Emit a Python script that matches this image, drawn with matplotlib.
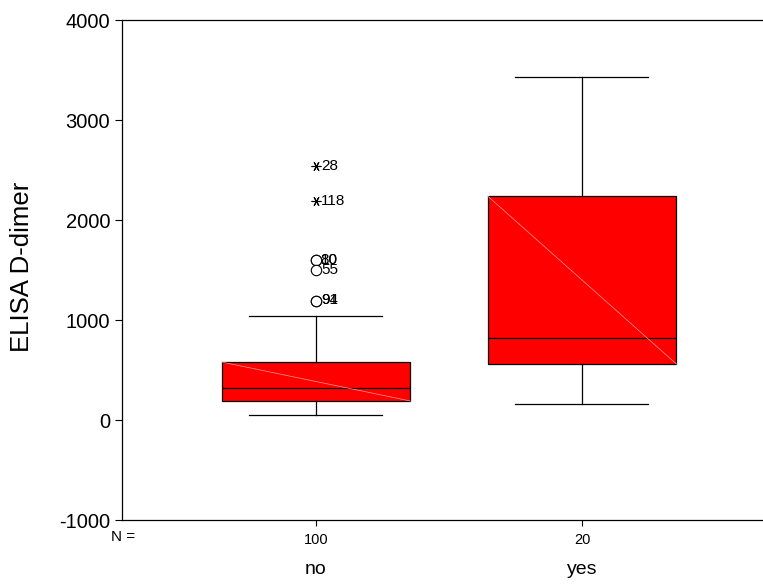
import numpy as np
import matplotlib.pyplot as plt

plt.rcParams["font.family"] = ["Liberation Sans", "DejaVu Sans"]
plt.rcParams["axes.unicode_minus"] = False

groups = ["no", "yes"]
counts = [100, 20]

# box statistics per group
q1 = [190, 560]
medians = [320, 820]
q3 = [580, 2240]
whisker_lo = [50, 160]
whisker_hi = [1040, 3430]

# outliers (group "no")
circle_vals = [1600, 1600, 1500, 1195, 1195]
circle_ids = ["80", "10", "55", "94", "91"]
star_vals = [2540, 2190]
star_ids = ["28", "118"]

fig = plt.figure(figsize=(7.63, 5.84), dpi=100)
ax = fig.add_axes([122 / 763, 1 - 520 / 584, 641 / 763, 500 / 584])

positions = [1, 2]
stats = []
for i, g in enumerate(groups):
    stats.append({
        "label": g,
        "q1": q1[i],
        "med": medians[i],
        "q3": q3[i],
        "whislo": whisker_lo[i],
        "whishi": whisker_hi[i],
        "fliers": [],
    })

box_w = 0.71
ax.bxp(
    stats,
    positions=positions,
    widths=box_w,
    patch_artist=True,
    showfliers=False,
    capwidths=0.5,
    boxprops=dict(facecolor="#ff0000", edgecolor="black", linewidth=0.9),
    medianprops=dict(color="black", linewidth=0.9),
    whiskerprops=dict(color="black", linewidth=0.9),
    capprops=dict(color="black", linewidth=0.9),
)

# faint diagonal across each box
for i, p in enumerate(positions):
    ax.plot([p - box_w / 2, p + box_w / 2], [q3[i], q1[i]],
            color="#ff9a9a", linewidth=0.5, zorder=3)

# outliers in the "no" group
ax.plot([1] * len(circle_vals), circle_vals, linestyle="none", marker="o",
        markersize=7.5, markerfacecolor="white", markeredgecolor="black",
        markeredgewidth=0.8, zorder=4)
ax.plot([1] * len(star_vals), star_vals, linestyle="none", marker=(6, 2, 90),
        markersize=7, markeredgecolor="black", markeredgewidth=0.8, zorder=4)
for v, t in zip(circle_vals + star_vals, circle_ids + star_ids):
    ax.annotate(t, (1, v), xytext=(3.5, 0), textcoords="offset points",
                ha="left", va="center", fontsize=11)

ax.set_xlim(1 - 194 / 266, 2 + 181 / 266)
ax.set_ylim(-1000, 4000)
ax.set_yticks([-1000, 0, 1000, 2000, 3000, 4000])
ax.tick_params(axis="y", labelsize=14.5, length=5, width=0.8, direction="out")
ax.set_xticks(positions)
ax.set_xticklabels([str(c) for c in counts], fontsize=10.5)
ax.tick_params(axis="x", length=4, width=0.8, direction="out", pad=5)

ax.spines["right"].set_visible(False)
for s in ["left", "bottom", "top"]:
    ax.spines[s].set_linewidth(0.9)

fig.text(123 / 763, 1 - 537 / 584, "N =", fontsize=11, ha="center", va="center")
for p, g in zip(positions, groups):
    ax.annotate(g, (p, 0), xycoords=("data", "axes fraction"),
                xytext=(0, -50), textcoords="offset pixels",
                ha="center", va="center", fontsize=14)

fig.text(22 / 763, 1 - 267 / 584, "ELISA D-dimer", rotation=90, fontsize=18.5,
         ha="center", va="center")

fig.savefig("out.png", dpi=100)
